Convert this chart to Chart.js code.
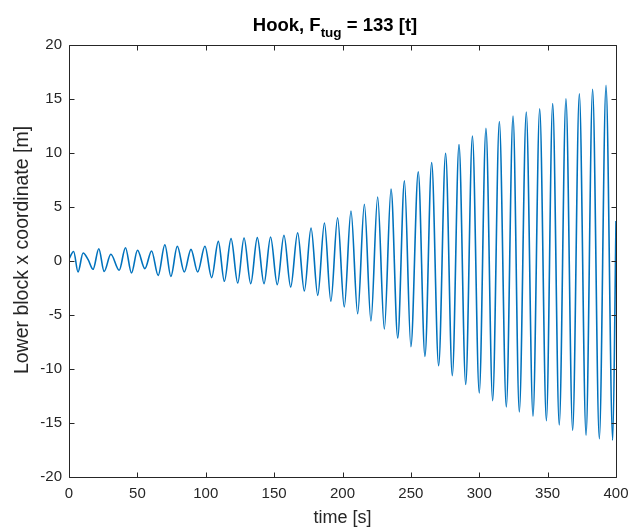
<!DOCTYPE html>
<html>
<head>
<meta charset="utf-8">
<script src="https://cdn.jsdelivr.net/npm/chart.js@4/dist/chart.umd.min.js"></script>
<style>
html,body{margin:0;padding:0;background:#fff;}
#wrap{position:relative;width:631px;height:532px;}
#title{position:absolute;left:0;width:670px;top:15px;text-align:center;font:bold 18.5px "Liberation Sans",Arial,sans-serif;color:#000;white-space:nowrap;line-height:20px;}
#title sub{font-size:13.5px;vertical-align:-6px;line-height:0;}
</style>
</head>
<body>
<div id="wrap">
<canvas id="c" width="631" height="532"></canvas>
<div id="title">Hook, F<sub>tug</sub> = 133 [t]</div>
</div>
<script>
// time of each read extremum [s]
const timeS = [0, 3.4, 6.6, 10.3, 14.0, 17.6, 21.8, 25.7, 30.6, 36.7, 41.3, 45.7, 50.1, 55.5, 60.4, 65.2, 70.1, 74.5, 79.2, 84.3, 89.2, 94.1, 99.4, 104.3, 109.2, 113.6, 118.5, 123.4, 128.0, 132.9, 137.7, 142.6, 147.4, 152.3, 157.2, 162.1, 167.2, 172.1, 177.0, 181.9, 186.8, 191.5, 196.4, 201.3, 206.2, 211.1, 216.0, 220.8, 225.7, 230.6, 235.5, 240.4, 245.3, 250.0, 255.4, 260.3, 265.2, 270.3, 275.4, 280.3, 285.2, 290.1, 295.0, 300.0, 304.9, 309.8, 314.7, 319.8, 324.7, 329.3, 334.4, 339.3, 344.2, 349.1, 353.7, 358.5, 363.4, 368.3, 373.2, 378.1, 382.9, 387.8, 392.7, 397.6, 400.0];
// lower block x coordinate [m]
const lowerBlockX = [0.2, 0.88, -1.02, 0.74, 0.12, -0.77, 1.14, -0.96, 0.62, -0.86, 1.23, -1.11, 0.99, -0.71, 0.93, -1.33, 1.51, -1.42, 1.36, -1.02, 1.08, -1.02, 1.36, -1.54, 1.82, -1.88, 2.07, -2.04, 2.13, -2.10, 2.16, -2.10, 2.22, -2.19, 2.38, -2.41, 2.62, -2.78, 3.06, -3.18, 3.52, -3.73, 4.01, -4.26, 4.63, -4.88, 5.25, -5.56, 5.93, -6.30, 6.67, -7.12, 7.42, -7.93, 8.27, -8.83, 9.12, -9.69, 9.97, -10.62, 10.78, -11.43, 11.58, -12.22, 12.28, -12.93, 12.91, -13.52, 13.42, -13.98, 13.80, -14.37, 14.10, -14.78, 14.57, -15.18, 15.03, -15.68, 15.49, -16.14, 15.90, -16.45, 16.27, -16.60, 3.7];

const xTickValues = [0, 50, 100, 150, 200, 250, 300, 350, 400];
const xTickLabels = ['0', '50', '100', '150', '200', '250', '300', '350', '400'];
const yTickValues = [-20, -15, -10, -5, 0, 5, 10, 15, 20];
const yTickLabels = ['-20', '-15', '-10', '-5', '0', '5', '10', '15', '20'];
const xAxisTitle = 'time [s]';
const yAxisTitle = 'Lower block x coordinate [m]';

const axisColor = '#262626';
const fontFamily = '"Liberation Sans", Arial, sans-serif';

const points = timeS.map((t, i) => ({ x: t, y: lowerBlockX[i] }));

const framePlugin = {
  id: 'frame',
  afterDatasetsDraw(chart) {
    const { ctx, chartArea: a, scales } = chart;
    const L = Math.round(a.left) + 0.5, R = Math.round(a.right) + 0.5;
    const T = Math.round(a.top) + 0.5, B = Math.round(a.bottom) + 0.5;
    const tl = 5;
    ctx.save();
    ctx.strokeStyle = axisColor;
    ctx.lineWidth = 1;
    ctx.beginPath();
    ctx.rect(L, T, R - L, B - T);
    xTickValues.forEach(v => {
      const px = Math.min(R, Math.max(L, Math.round(scales.x.getPixelForValue(v)) + 0.5));
      ctx.moveTo(px, B); ctx.lineTo(px, B - tl);
      ctx.moveTo(px, T); ctx.lineTo(px, T + tl);
    });
    yTickValues.forEach(v => {
      const py = Math.min(B, Math.max(T, Math.round(scales.y.getPixelForValue(v)) + 0.5));
      ctx.moveTo(L, py); ctx.lineTo(L + tl, py);
      ctx.moveTo(R, py); ctx.lineTo(R - tl, py);
    });
    ctx.stroke();
    // y axis label
    ctx.fillStyle = axisColor;
    ctx.font = '19.5px ' + fontFamily;
    ctx.textAlign = 'center';
    ctx.textBaseline = 'middle';
    ctx.translate(23, 250);
    ctx.rotate(-Math.PI / 2);
    ctx.fillText(yAxisTitle, 0, 0);
    ctx.restore();
  }
};

new Chart(document.getElementById('c'), {
  type: 'line',
  data: {
    datasets: [{
      data: points,
      borderColor: '#0072BD',
      borderWidth: 1.6,
      pointRadius: 0,
      fill: false,
      cubicInterpolationMode: 'monotone'
    }]
  },
  options: {
    responsive: false,
    animation: false,
    devicePixelRatio: 1,
    layout: { padding: { left: 0, top: 45, right: 15, bottom: 0 } },
    plugins: { legend: { display: false }, tooltip: { enabled: false }, title: { display: false } },
    scales: {
      x: {
        type: 'linear', min: 0, max: 400,
        grid: { display: false, drawTicks: false },
        border: { display: false },
        afterBuildTicks: s => { s.ticks = xTickValues.map(v => ({ value: v })); },
        afterFit: s => { s.height = 55; s.paddingLeft = 0; s.paddingRight = 0; },
        ticks: {
          autoSkip: false, maxRotation: 0, padding: 8, color: axisColor,
          font: { family: fontFamily, size: 15 },
          callback: (v, i) => xTickLabels[i]
        },
        title: {
          display: true, text: xAxisTitle, color: axisColor,
          font: { family: fontFamily, size: 18 },
          padding: { top: 0, bottom: 3 }
        }
      },
      y: {
        type: 'linear', min: -20, max: 20,
        grid: { display: false, drawTicks: false },
        border: { display: false },
        afterBuildTicks: s => { s.ticks = yTickValues.map(v => ({ value: v })); },
        afterFit: s => { s.width = 69; s.paddingTop = 0; s.paddingBottom = 0; },
        ticks: {
          autoSkip: false, padding: 7, color: axisColor,
          font: { family: fontFamily, size: 15 },
          callback: (v, i) => yTickLabels[i]
        },
        title: { display: false }
      }
    }
  },
  plugins: [framePlugin]
});
</script>
</body>
</html>
